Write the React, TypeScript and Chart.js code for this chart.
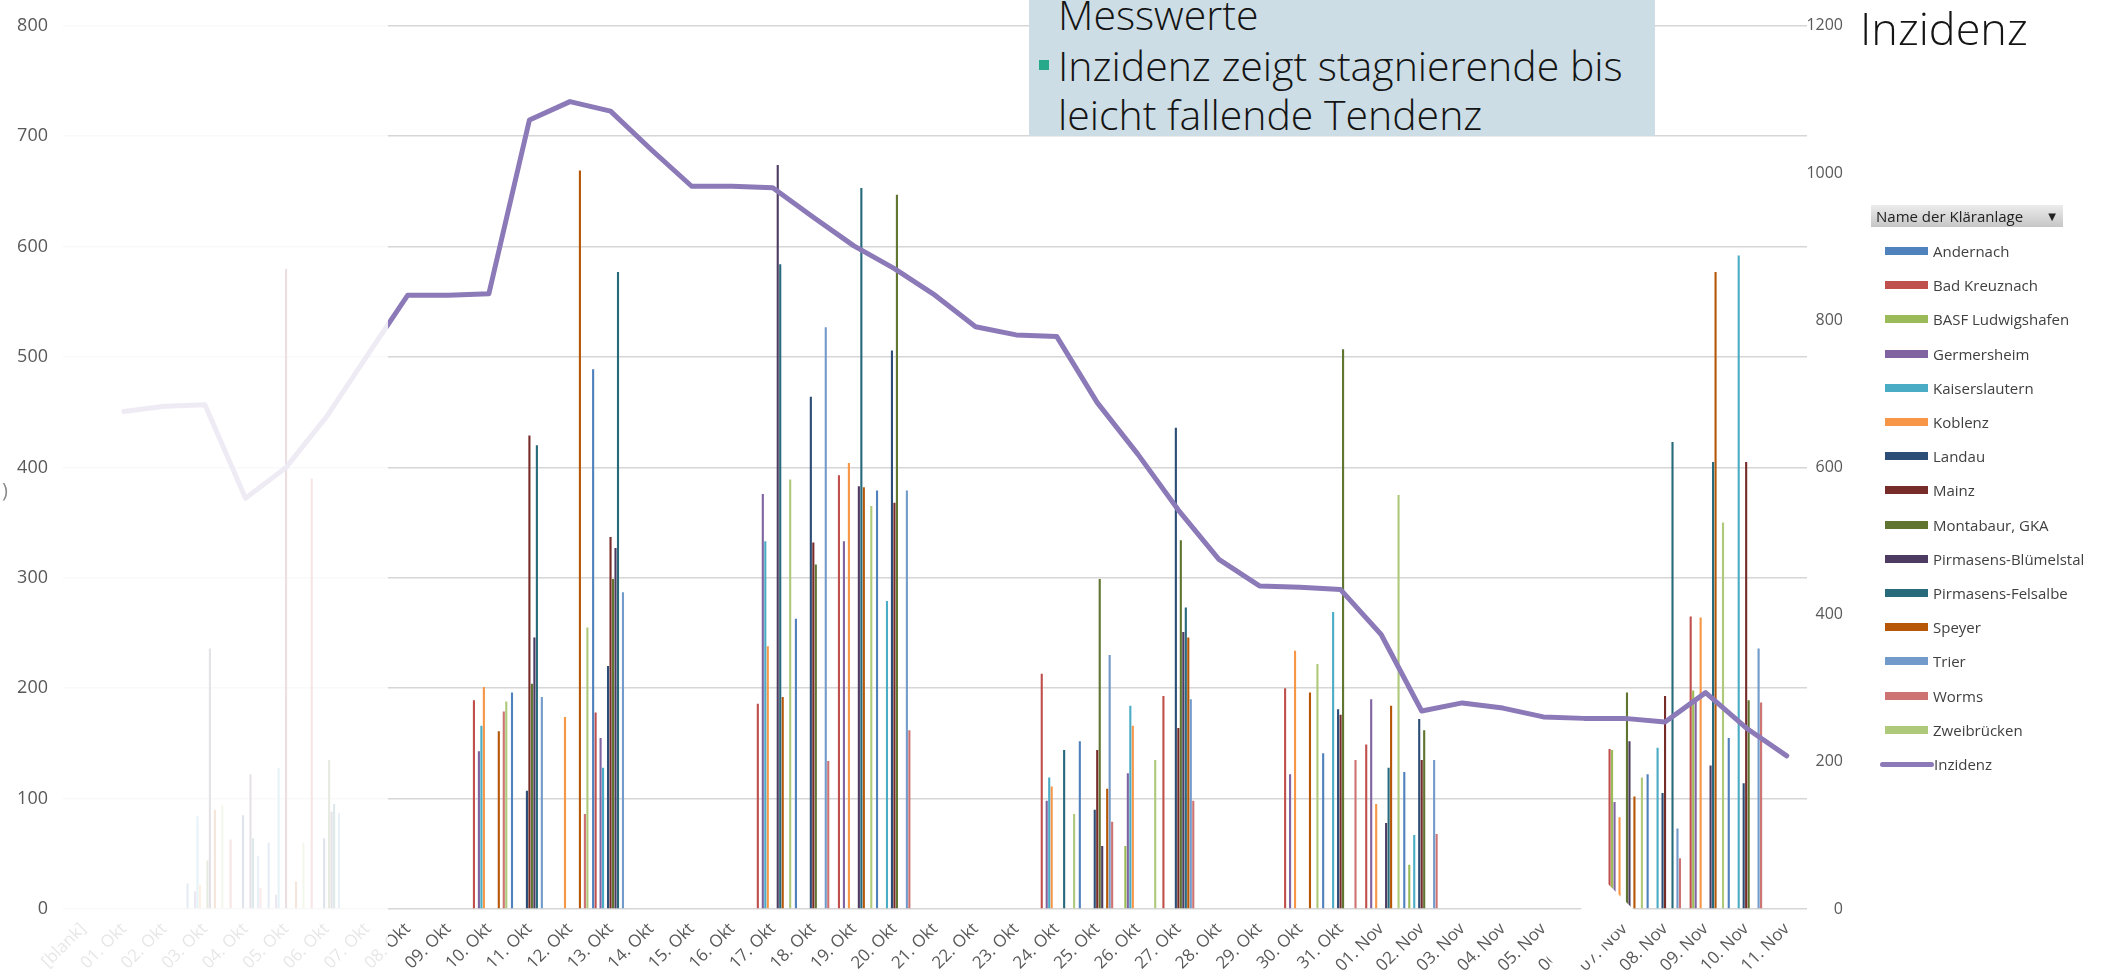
import React, { useEffect, useRef } from "react";
import { Chart, registerables } from "chart.js";

Chart.register(...registerables);

const _ = null;
const FONT = "'Open Sans', 'DejaVu Sans', sans-serif";

const categories = [
  "[blank]",
  "01. Okt", "02. Okt", "03. Okt", "04. Okt", "05. Okt", "06. Okt", "07. Okt", "08. Okt", "09. Okt", "10. Okt",
  "11. Okt", "12. Okt", "13. Okt", "14. Okt", "15. Okt", "16. Okt", "17. Okt", "18. Okt", "19. Okt", "20. Okt",
  "21. Okt", "22. Okt", "23. Okt", "24. Okt", "25. Okt", "26. Okt", "27. Okt", "28. Okt", "29. Okt", "30. Okt",
  "31. Okt",
  "01. Nov", "02. Nov", "03. Nov", "04. Nov", "05. Nov", "06. Nov", "07. Nov", "08. Nov", "09. Nov", "10. Nov",
  "11. Nov",
];

// values per Kläranlage, one entry per category (index 0 = [blank])
const andernach = [
  _, _, _, 23, _, 60, _, _, _, _,
  _, 196, _, 489, _, _, _, _, 263, _,
  379, _, _, _, _, 152, _, _, _, _,
  _, 141, _, 124, _, _, _, _, _, 122,
  _, 155, _,
];
const badKreuznach = [
  _, _, _, _, 63, _, 390, _, _, _,
  189, _, _, 178, _, _, _, 186, _, 393,
  _, _, _, _, 213, _, _, 193, _, _,
  200, _, 149, _, _, _, _, _, 145, _,
  265, _, _,
];
const basf = [
  _, _, _, _, _, _, _, _, _, _,
  _, _, _, _, _, _, _, _, _, _,
  _, _, _, _, _, _, 57, _, _, _,
  _, _, _, 40, _, _, _, _, 144, _,
  198, _, _,
];
const germersheim = [
  _, _, _, 16, _, 13, _, _, _, _,
  143, _, _, 155, _, _, _, 376, _, 333,
  _, _, _, _, 98, _, 123, _, _, _,
  122, _, 190, _, _, _, _, _, 97, _,
  188, _, _,
];
const kaiserslautern = [
  _, _, _, 84, _, 128, _, _, _, _,
  166, _, _, 128, _, _, _, 333, _, _,
  279, _, _, _, 119, _, 184, _, _, _,
  _, 269, _, 67, _, _, _, _, _, 146,
  _, 592, _,
];
const koblenz = [
  _, _, _, 22, _, _, _, _, _, _,
  201, _, 174, _, _, _, _, 238, _, 404,
  _, _, _, _, 111, _, 166, _, _, _,
  234, _, 95, _, _, _, _, _, 83, _,
  264, _, _,
];
const landau = [
  _, _, _, _, 85, _, 64, _, _, _,
  _, 107, _, 220, _, _, _, _, 464, _,
  506, _, _, _, _, 90, _, 436, _, _,
  _, 181, _, 172, _, _, _, _, _, 105,
  _, 114, _,
];
const mainz = [
  _, _, _, _, _, 580, _, _, _, _,
  _, 429, _, 337, _, _, _, _, 332, _,
  368, _, _, _, _, 144, _, 164, _, _,
  _, 176, _, 135, _, _, _, _, _, 193,
  _, 405, _,
];
const montabaur = [
  _, _, _, 44, _, _, 135, _, _, _,
  _, 204, _, 299, _, _, _, _, 312, _,
  647, _, _, _, _, 299, _, 334, _, _,
  _, 507, _, 162, _, _, _, _, 196, _,
  _, 189, _,
];
const pirmasensBluemelstal = [
  _, _, _, 236, 122, _, 88, _, _, _,
  _, 246, _, 327, _, _, _, 674, _, 383,
  _, _, _, _, _, 57, _, 251, _, _,
  _, _, 78, _, _, _, _, _, 152, _,
  130, _, _,
];
const pirmasensFelsalbe = [
  _, _, _, _, 64, _, 95, _, _, _,
  _, 420, _, 577, _, _, _, 584, _, 653,
  _, _, _, _, 144, _, _, 273, _, _,
  _, _, 128, _, _, _, _, _, _, 423,
  405, _, _,
];
const speyer = [
  _, _, _, 90, _, 25, _, _, _, _,
  161, _, 669, _, _, _, _, 192, _, 382,
  _, _, _, _, _, 109, _, 246, _, _,
  196, _, 184, _, _, _, _, _, 102, _,
  577, _, _,
];
const trier = [
  _, _, _, _, 48, _, 87, _, _, _,
  _, 192, _, 287, _, _, _, _, 527, _,
  379, _, _, _, _, 230, _, 190, _, _,
  _, _, _, 135, _, _, _, _, _, 73,
  _, 236, _,
];
const worms = [
  _, _, _, _, 19, _, _, _, _, _,
  179, _, 86, _, _, _, _, _, 134, _,
  162, _, _, _, _, 79, _, 98, _, _,
  _, 135, _, 68, _, _, _, _, _, 46,
  _, 187, _,
];
const zweibruecken = [
  _, _, _, 94, _, 60, _, _, _, _,
  188, _, 255, _, _, _, _, 389, _, 365,
  _, _, _, _, 86, _, 135, _, _, _,
  222, _, 375, _, _, _, _, _, 119, _,
  350, _, _,
];

// Inzidenz (right axis)
const inzidenz = [
  _, 676, 683, 685, 558, 600, 669, 752, 834, 834,
  836, 1072, 1097, 1084, 1032, 982, 982, 980, 940, 901,
  870, 834, 791, 780, 778, 688, 618, 542, 475, 439,
  437, 434, 373, 269, 280, 273, 261, 259, 259, 254,
  294, 246, 208,
];

const seriesNames = [
  "Andernach", "Bad Kreuznach", "BASF Ludwigshafen", "Germersheim", "Kaiserslautern",
  "Koblenz", "Landau", "Mainz", "Montabaur, GKA", "Pirmasens-Blümelstal",
  "Pirmasens-Felsalbe", "Speyer", "Trier", "Worms", "Zweibrücken",
];
const seriesValues = [
  andernach, badKreuznach, basf, germersheim, kaiserslautern,
  koblenz, landau, mainz, montabaur, pirmasensBluemelstal,
  pirmasensFelsalbe, speyer, trier, worms, zweibruecken,
];
const seriesColors = [
  "#4F81BD", "#C0504D", "#9BBB59", "#8064A2", "#4BACC6",
  "#F79646", "#2C4D75", "#772C2A", "#5F7530", "#4D3B62",
  "#276A7C", "#B65708", "#729ACA", "#CD7371", "#AFC97A",
];
const lineName = "Inzidenz";
const lineColor = "#8B79B8";

const leftMax = 800;
const leftStep = 100;
const rightMax = 1200;
const rightStep = 200;

export default function App() {
  const ref = useRef<HTMLCanvasElement>(null);

  useEffect(() => {
    const canvas = ref.current;
    if (!canvas) return;
    const chart = new Chart(canvas, {
      type: "bar",
      data: {
        labels: categories,
        datasets: [
          ...seriesNames.map((name, i) => ({
            type: "bar" as const,
            label: name,
            data: seriesValues[i],
            backgroundColor: seriesColors[i],
            borderWidth: 0,
            yAxisID: "y",
            categoryPercentage: 0.92,
            barPercentage: 0.85,
          })),
          {
            type: "line" as const,
            label: lineName,
            data: inzidenz,
            borderColor: lineColor,
            backgroundColor: lineColor,
            borderWidth: 5,
            pointRadius: 0,
            tension: 0,
            yAxisID: "y1",
            order: -1,
            borderJoinStyle: "round" as const,
            borderCapStyle: "round" as const,
          },
        ],
      },
      options: {
        responsive: false,
        animation: false,
        layout: { padding: { left: 0, right: 271, top: 17, bottom: 0 } },
        plugins: { legend: { display: false }, tooltip: { enabled: false } },
        scales: {
          x: {
            offset: true,
            grid: { display: false },
            border: { display: false },
            ticks: {
              autoSkip: false,
              maxRotation: 45,
              minRotation: 45,
              color: "#595959",
              font: { family: FONT, size: 17 },
              padding: 2,
            },
            afterFit: (s: any) => {
              s.height = 68;
            },
          },
          y: {
            position: "left",
            min: 0,
            max: leftMax,
            ticks: {
              stepSize: leftStep,
              color: "#595959",
              font: { family: FONT, size: 18 },
              padding: 15,
              callback: (v: any) => String(v),
            },
            grid: { color: "#d6d6d6", lineWidth: 1.5, drawTicks: false },
            border: { display: false },
            afterFit: (s: any) => {
              s.width = 63;
            },
          },
          y1: {
            position: "right",
            min: 0,
            max: rightMax,
            ticks: {
              stepSize: rightStep,
              color: "#595959",
              font: { family: FONT, size: 16 },
              crossAlign: "far",
              padding: 0,
              callback: (v: any) => String(v),
            },
            grid: { drawOnChartArea: false, drawTicks: false },
            border: { display: false },
            afterFit: (s: any) => {
              s.width = 36;
            },
          },
        },
      },
    } as any);
    return () => chart.destroy();
  }, []);

  const legendTop = 251;
  const legendStep = 34.2;

  return (
    <div
      style={{
        position: "relative",
        width: 2114,
        height: 977,
        overflow: "hidden",
        background: "#ffffff",
        fontFamily: FONT,
      }}
    >
      <style>{"html,body{margin:0;padding:0;overflow:hidden;background:#fff}"}</style>
      <canvas
        ref={ref}
        width={2114}
        height={977}
        style={{ position: "absolute", left: 0, top: 0, width: 2114, height: 977 }}
      />
      {/* faded left part */}
      <div
        style={{
          position: "absolute",
          left: 52,
          top: 0,
          width: 336,
          height: 977,
          background: "rgba(255,255,255,0.85)",
        }}
      />
      <div
        style={{
          position: "absolute",
          left: 20,
          top: 920,
          width: 32,
          height: 57,
          background: "rgba(255,255,255,0.85)",
        }}
      />
      {/* small white occluding shape near 06./07. Nov */}
      <div
        style={{
          position: "absolute",
          left: 0,
          top: 0,
          width: 2114,
          height: 977,
          background: "#ffffff",
          clipPath: "polygon(1607px 883px, 1635px 911px, 1568px 978px, 1540px 950px)",
        }}
      />
      <div
        style={{
          position: "absolute",
          left: 2,
          top: 478,
          fontSize: 20,
          color: "#8a8a8a",
          lineHeight: "24px",
        }}
      >
        )
      </div>

      {/* text box */}
      <div
        style={{
          position: "absolute",
          left: 1029,
          top: 0,
          width: 626,
          height: 136,
          background: "#CDDDE5",
          overflow: "hidden",
          color: "#141414",
          fontWeight: 300,
          fontSize: 41,
          whiteSpace: "nowrap",
        }}
      >
        <div style={{ position: "absolute", left: 29, top: -6, lineHeight: "41px" }}>Messwerte</div>
        <div
          style={{
            position: "absolute",
            left: 10,
            top: 60,
            width: 10,
            height: 10,
            background: "#26A88B",
          }}
        />
        <div style={{ position: "absolute", left: 29, top: 45, lineHeight: "41px" }}>
          Inzidenz zeigt stagnierende bis
        </div>
        <div style={{ position: "absolute", left: 29, top: 94, lineHeight: "41px" }}>
          leicht fallende Tendenz
        </div>
      </div>

      {/* right title */}
      <div
        style={{
          position: "absolute",
          left: 1860,
          top: 5,
          fontSize: 45,
          fontWeight: 300,
          lineHeight: "45px",
          color: "#141414",
          whiteSpace: "nowrap",
        }}
      >
        Inzidenz
      </div>

      {/* legend */}
      <div
        style={{
          position: "absolute",
          left: 1871,
          top: 205,
          width: 192,
          height: 22,
          background: "linear-gradient(#ececec, #c6c6c6)",
          color: "#222",
          fontSize: 15,
          lineHeight: "22px",
          whiteSpace: "nowrap",
        }}
      >
        <span style={{ position: "absolute", left: 5, top: 0 }}>Name der Kläranlage</span>
        <span style={{ position: "absolute", right: 7, top: 0, fontSize: 10 }}>▼</span>
      </div>
      {seriesNames.map((name, i) => {
        const cy = legendTop + legendStep * i;
        return (
          <React.Fragment key={name}>
            <div
              style={{
                position: "absolute",
                left: 1885,
                top: cy - 4,
                width: 43,
                height: 8,
                background: seriesColors[i],
              }}
            />
            <div
              style={{
                position: "absolute",
                left: 1933,
                top: cy - 11,
                fontSize: 15,
                lineHeight: "22px",
                color: "#404040",
                whiteSpace: "nowrap",
              }}
            >
              {name}
            </div>
          </React.Fragment>
        );
      })}
      <div
        style={{
          position: "absolute",
          left: 1880,
          top: legendTop + legendStep * 15 - 2.5,
          width: 54,
          height: 5,
          borderRadius: 3,
          background: lineColor,
        }}
      />
      <div
        style={{
          position: "absolute",
          left: 1934,
          top: legendTop + legendStep * 15 - 11,
          fontSize: 15,
          lineHeight: "22px",
          color: "#404040",
          whiteSpace: "nowrap",
        }}
      >
        {lineName}
      </div>
    </div>
  );
}
